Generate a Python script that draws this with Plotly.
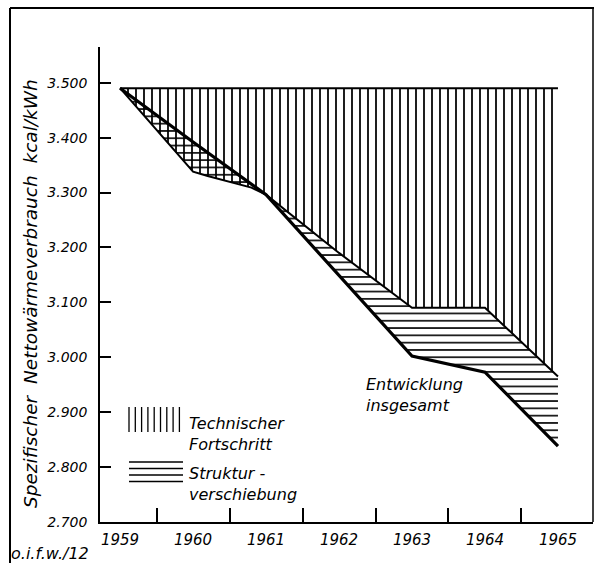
import plotly.graph_objects as go

# ---- data ----
years = [1959, 1960, 1961, 1962, 1963, 1964, 1965]
year_labels = ["1959", "1960", "1961", "1962", "1963", "1964", "1965"]
ausgangswert = [3490, 3490, 3490, 3490, 3490, 3490, 3490]          # level 1959
# boundary between "Technischer Fortschritt" and "Strukturverschiebung"
tech_x = [1959, 1960, 1960.2, 1960.5, 1960.8, 1961, 1962, 1963, 1964, 1965]
tech_y = [3490, 3338, 3330, 3320, 3309, 3296, 3190, 3090, 3090, 2965]
# "Entwicklung insgesamt"
total_y = [3490, 3392, 3296, 3150, 3002, 2973, 2838]
y_ticks = [2700, 2800, 2900, 3000, 3100, 3200, 3300, 3400, 3500]
y_tick_labels = ["2.700", "2.800", "2.900", "3.000", "3.100", "3.200", "3.300", "3.400", "3.500"]

FONT = "DejaVu Sans"
W, H = 608, 563
L, R, T, B = 100, 593, 47, 522


def px(x):
    return (x - L) / (R - L)


def py(y):
    return (B - y) / (B - T)


fig = go.Figure()
fig.add_trace(go.Scatter(x=years, y=ausgangswert, mode="lines",
                         line=dict(color="black", width=2), showlegend=False))
fig.add_trace(go.Scatter(x=tech_x, y=tech_y, mode="lines", fill="tonexty",
                         fillcolor="rgba(0,0,0,0)",
                         fillpattern=dict(shape="|", size=8, solidity=0.22,
                                          fgcolor="black", bgcolor="rgba(0,0,0,0)",
                                          fillmode="replace"),
                         line=dict(color="black", width=2), showlegend=False))
fig.add_trace(go.Scatter(x=years, y=total_y, mode="lines", fill="tonexty",
                         fillcolor="rgba(0,0,0,0)",
                         fillpattern=dict(shape="-", size=7.3, solidity=0.22,
                                          fgcolor="black", bgcolor="rgba(0,0,0,0)",
                                          fillmode="replace"),
                         line=dict(color="black", width=3.2), showlegend=False))

shapes = []
# frame
shapes.append(dict(type="line", xref="paper", yref="paper", x0=px(10), x1=px(10), y0=py(8), y1=py(563),
                   line=dict(color="black", width=2)))
shapes.append(dict(type="line", xref="paper", yref="paper", x0=px(10), x1=px(594), y0=py(8), y1=py(8),
                   line=dict(color="black", width=2)))
shapes.append(dict(type="line", xref="paper", yref="paper", x0=px(593), x1=px(593), y0=py(8), y1=py(522),
                   line=dict(color="black", width=1.5)))
# legend glyphs
for i in range(9):
    xx = 129 + i * 6.3
    shapes.append(dict(type="line", xref="paper", yref="paper", x0=px(xx), x1=px(xx), y0=py(407), y1=py(432),
                       line=dict(color="black", width=1.3)))
for yy in [462, 468.5, 475, 481.5]:
    shapes.append(dict(type="line", xref="paper", yref="paper", x0=px(129), x1=px(183), y0=py(yy), y1=py(yy),
                       line=dict(color="black", width=1.6)))

tfont = dict(family=FONT, size=16, color="black", style="italic")


def label(text, x, y, xanchor="left", font=tfont, **kw):
    return dict(text=text, x=px(x), y=py(y), xref="paper", yref="paper", xanchor=xanchor,
                yanchor="middle", showarrow=False, font=font, align="left", **kw)


annotations = [
    label("Spezifischer  Nettowärmeverbrauch  kcal/kWh", 30, 294, xanchor="center", textangle=-90,
          font=dict(family=FONT, size=18.5, color="black", style="italic")),
    label("Entwicklung<br>insgesamt", 364, 395),
    label("Technischer<br>Fortschritt", 187, 434),
    label("Struktur -<br>verschiebung", 187, 484),
    label("o.i.f.w./12", 9, 553, font=dict(family=FONT, size=16, color="black", style="italic")),
]

fig.update_layout(
    width=W, height=H,
    margin=dict(l=L, r=W - R, t=T, b=H - B),
    paper_bgcolor="white", plot_bgcolor="white",
    shapes=shapes, annotations=annotations, showlegend=False,
    xaxis=dict(range=[1958.725, 1965.48], tickvals=years, ticktext=year_labels, ticks="",
               showline=True, linecolor="black", linewidth=1.5, showgrid=False, zeroline=False,
               tickfont=dict(family=FONT, size=15, color="black", style="italic"),
               ticklabelstandoff=3,
               minor=dict(tickvals=[1959.5, 1960.5, 1961.5, 1962.5, 1963.5, 1964.5], ticks="inside",
                          ticklen=14, tickwidth=1.5, tickcolor="black", showgrid=False)),
    yaxis=dict(range=[2700, 3565], tickvals=y_ticks, ticktext=y_tick_labels, ticks="inside",
               ticklen=11, tickwidth=1.5, tickcolor="black",
               showline=True, linecolor="black", linewidth=1.5, showgrid=False, zeroline=False,
               tickfont=dict(family=FONT, size=14, color="black", style="italic"),
               ticklabelstandoff=8),
)

fig.write_html("out.html", config={"displayModeBar": False},
               post_script="document.body.style.margin='0px';")
